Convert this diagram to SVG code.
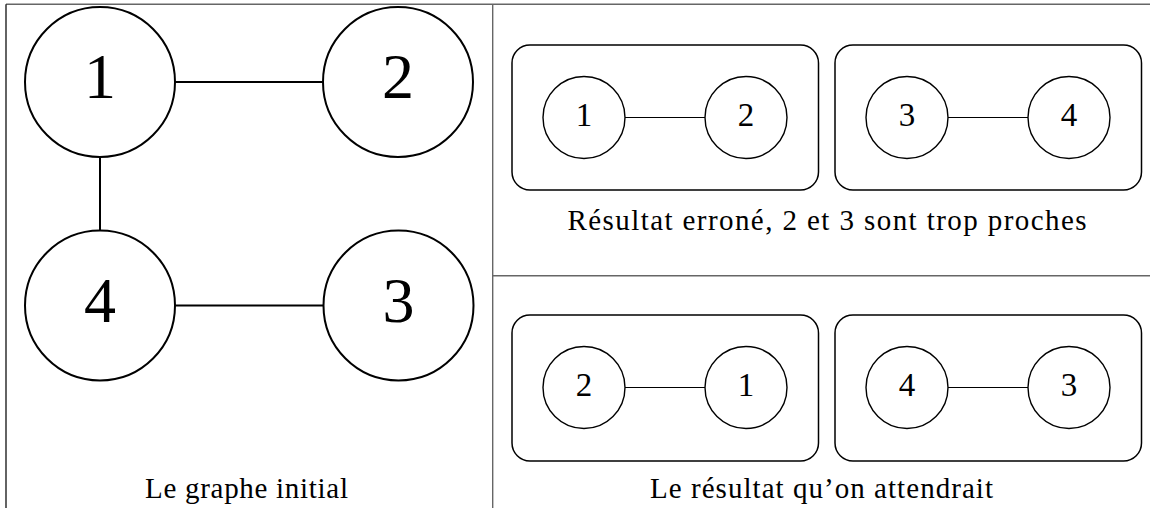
<svg xmlns="http://www.w3.org/2000/svg" width="1153" height="508" viewBox="0 0 1153 508">
  <style>
    .rule { stroke: #666; stroke-width: 1.4; fill: none; }
    .big { fill: #fff; stroke: #000; stroke-width: 2; }
    .small { fill: #fff; stroke: #000; stroke-width: 1.4; }
    .box { fill: none; stroke: #000; stroke-width: 1.5; }
    .edge-big { stroke: #000; stroke-width: 2; }
    .edge-small { stroke: #000; stroke-width: 1.2; }
    text { font-family: "Liberation Serif", "Times New Roman", serif; fill: #000; text-anchor: middle; }
    .dbig { font-size: 64px; }
    .dsmall { font-size: 33px; }
    .cap { font-size: 29px; }
  </style>
  <rect width="1153" height="508" fill="#fff"/>

  <!-- table rules -->
  <g id="table">
    <line class="rule" x1="6" y1="4.3" x2="1150" y2="4.3"/>
    <line class="rule" x1="6" y1="4.3" x2="6" y2="508" style="stroke:#222"/>
    <line class="rule" x1="492.7" y1="4.3" x2="492.7" y2="508"/>
    <line class="rule" x1="492.7" y1="275.7" x2="1150" y2="275.7"/>
  </g>

  <!-- connectors -->
  <g id="connectors">
    <line class="edge-big" x1="175" y1="82" x2="323" y2="82"/>
    <line class="edge-big" x1="100" y1="157" x2="100" y2="231"/>
    <line class="edge-big" x1="175" y1="305.5" x2="324" y2="305.5"/>
    <line class="edge-small" x1="625" y1="117.5" x2="705" y2="117.5"/>
    <line class="edge-small" x1="948" y1="117.5" x2="1028" y2="117.5"/>
    <line class="edge-small" x1="625" y1="387.5" x2="705" y2="387.5"/>
    <line class="edge-small" x1="948" y1="387.5" x2="1028" y2="387.5"/>
  </g>

  <!-- initial graph -->
  <g id="g1"><circle class="big" cx="100" cy="82" r="75"/><text class="dbig" x="100" y="98">1</text></g>
  <g id="g2"><circle class="big" cx="398" cy="82" r="75"/><text class="dbig" x="398" y="98">2</text></g>
  <g id="g4"><circle class="big" cx="100" cy="305.5" r="75"/><text class="dbig" x="100" y="321.5">4</text></g>
  <g id="g3"><circle class="big" cx="398.5" cy="305.5" r="75"/><text class="dbig" x="398.5" y="321.5">3</text></g>

  <!-- wrong result -->
  <g id="wrong-a">
    <rect class="box" x="512" y="45" width="306.5" height="145" rx="18"/>
    <circle class="small" cx="584" cy="117.5" r="41"/><text class="dsmall" x="584" y="126">1</text>
    <circle class="small" cx="746" cy="117.5" r="41"/><text class="dsmall" x="746" y="126">2</text>
  </g>
  <g id="wrong-b">
    <rect class="box" x="835" y="45" width="306.5" height="145" rx="18"/>
    <circle class="small" cx="907" cy="117.5" r="41"/><text class="dsmall" x="907" y="126">3</text>
    <circle class="small" cx="1069" cy="117.5" r="41"/><text class="dsmall" x="1069" y="126">4</text>
  </g>

  <!-- expected result -->
  <g id="expected-a">
    <rect class="box" x="512" y="315" width="306.5" height="146" rx="18"/>
    <circle class="small" cx="584" cy="387.5" r="41"/><text class="dsmall" x="584" y="396">2</text>
    <circle class="small" cx="746" cy="387.5" r="41"/><text class="dsmall" x="746" y="396">1</text>
  </g>
  <g id="expected-b">
    <rect class="box" x="835" y="315" width="306.5" height="146" rx="18"/>
    <circle class="small" cx="907" cy="387.5" r="41"/><text class="dsmall" x="907" y="396">4</text>
    <circle class="small" cx="1069" cy="387.5" r="41"/><text class="dsmall" x="1069" y="396">3</text>
  </g>

  <!-- captions -->
  <g id="captions">
    <text class="cap" x="246.5" y="498" textLength="203" lengthAdjust="spacing">Le graphe initial</text>
    <text class="cap" x="827" y="230" textLength="519" lengthAdjust="spacing">Résultat erroné, 2 et 3 sont trop proches</text>
    <text class="cap" x="821.5" y="498" textLength="343" lengthAdjust="spacing">Le résultat qu’on attendrait</text>
  </g>
</svg>
